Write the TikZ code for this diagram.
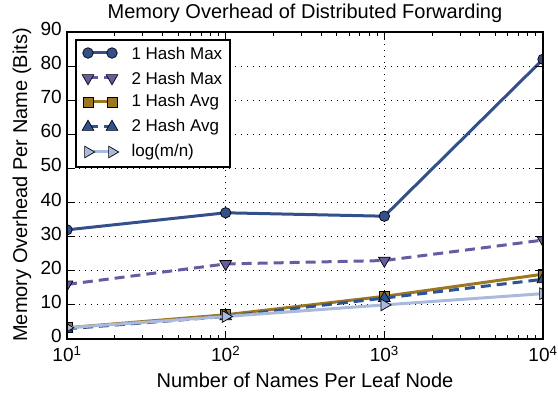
\documentclass[tikz,border=0pt]{standalone}
\usepackage{fontspec}
\setmainfont{Liberation Sans}
\usetikzlibrary{shapes.geometric}
\definecolor{maxone}{RGB}{52,80,138}
\definecolor{maxtwo}{RGB}{106,90,160}
\definecolor{avgone}{RGB}{156,118,32}
\definecolor{avgtwo}{RGB}{46,84,148}
\definecolor{logmn}{RGB}{170,186,220}

\tikzset{
  mk/.style={draw=black,line width=0.7pt,inner sep=0pt,outer sep=0pt},
  circ/.style={mk,circle,minimum size=10.5pt},
  sq/.style={mk,rectangle,minimum size=10pt},
  tri/.style={mk,regular polygon,regular polygon sides=3,minimum size=13.5pt},
  tdown/.style={tri,shape border rotate=180},
  tright/.style={tri,shape border rotate=-90},
  series/.style={line width=3pt,line join=round},
  dsh/.style={series,dash pattern=on 10pt off 6pt},
  gridline/.style={line width=0.9pt,dash pattern=on 1pt off 5pt},
  axlab/.style={font=\fontsize{20}{24}\selectfont},
  ticklab/.style={font=\fontsize{19}{23}\selectfont,inner sep=0pt},
  leglab/.style={font=\fontsize{17}{20}\selectfont,anchor=west},
}

\begin{document}
\begin{tikzpicture}[x=1pt,y=1pt]
\useasboundingbox (0,0) rectangle (558,394);

\begin{scope}[shift={(67,55)},x=158.67pt,y=3.411pt]
% grid
\foreach \v in {10,20,...,80}{
\draw[gridline] (0,\v) -- (3,\v);
}
\foreach \k in {1,2}{
\draw[gridline] (\k,0) -- (\k,90);
}
% data
\foreach \v [count=\i from 0] in {32,37,36,82}{ \coordinate (a\i) at (\i,\v); }
\foreach \v [count=\i from 0] in {16,22,23,29}{ \coordinate (b\i) at (\i,\v); }
\foreach \v [count=\i from 0] in {3.3,7.1,12.5,19}{ \coordinate (c\i) at (\i,\v); }
\foreach \v [count=\i from 0] in {3.0,6.6,12.0,17.5}{ \coordinate (d\i) at (\i,\v); }
\foreach \v [count=\i from 0] in {3.3,6.6,10,13.3}{ \coordinate (e\i) at (\i,\v); }
\begin{scope}
\clip (0,0) rectangle (3,90);
\draw[series,maxone] (a0) -- (a1) -- (a2) -- (a3);
\foreach \i in {0,...,3}{ \node[circ,fill=maxone] at (a\i) {}; }
\draw[dsh,maxtwo] (b0) -- (b1) -- (b2) -- (b3);
\foreach \i in {0,...,3}{ \node[tdown,fill=maxtwo] at (b\i) {}; }
\draw[series,avgone] (c0) -- (c1) -- (c2) -- (c3);
\foreach \i in {0,...,3}{ \node[sq,fill=avgone] at (c\i) {}; }
\draw[dsh,avgtwo] (d0) -- (d1) -- (d2) -- (d3);
\foreach \i in {0,...,3}{ \node[tri,fill=avgtwo] at (d\i) {}; }
\draw[series,logmn] (e0) -- (e1) -- (e2) -- (e3);
\foreach \i in {0,...,3}{ \node[tright,fill=logmn] at (e\i) {}; }
\end{scope}
% frame and ticks
\draw[line width=1.4pt] (0,0) rectangle (3,90);
\foreach \k in {0,...,3}{
\draw[line width=1pt] (\k,0) -- ++(0,8pt) (\k,90) -- ++(0,-8pt);
}
\foreach \k in {0,1,2}{
\foreach \m in {2,...,9}{
\draw[line width=0.8pt] ({\k+log10(\m)},0) -- ++(0,4pt) ({\k+log10(\m)},90) -- ++(0,-4pt);
}}
\foreach \v in {0,10,...,90}{
\draw[line width=1pt] (0,\v) -- ++(8pt,0) (3,\v) -- ++(-8pt,0);
\node[ticklab,anchor=east,xshift=-5pt,yshift=3pt] (y\v) at (0,\v) {\v};
}
\foreach \k in {1,...,4}{
\node[ticklab,anchor=north,yshift=-7pt] (x\k) at (\k-1,0) {10\textsuperscript{\k}};
}
\end{scope}

% labels
\node[axlab,anchor=base] (title) at (305,375) {Memory Overhead of Distributed Forwarding};
\node[axlab,anchor=base] (xlab) at (305,6) {Number of Names Per Leaf Node};
\node[axlab,rotate=90] (ylab) at (22,209) {Memory Overhead Per Name (Bits)};

% legend
\draw[fill=white,line width=1.2pt] (76,227) rectangle (230,354);
\foreach \n/\y in {p/341,q/316,r/292,s/267,t/242}{
\coordinate (\n1) at (88,\y);
\coordinate (\n2) at (112,\y);
}
\draw[series,maxone] (p1) -- (p2);
\node[circ,fill=maxone] at (p1) {}; \node[circ,fill=maxone] at (p2) {};
\draw[dsh,maxtwo] (q1) -- (q2);
\node[tdown,fill=maxtwo] at (q1) {}; \node[tdown,fill=maxtwo] at (q2) {};
\draw[series,avgone] (r1) -- (r2);
\node[sq,fill=avgone] at (r1) {}; \node[sq,fill=avgone] at (r2) {};
\draw[dsh,avgtwo] (s1) -- (s2);
\node[tri,fill=avgtwo] at (s1) {}; \node[tri,fill=avgtwo] at (s2) {};
\draw[series,logmn] (t1) -- (t2);
\node[tright,fill=logmn] at (t1) {}; \node[tright,fill=logmn] at (t2) {};
\node[leglab] (lp) at (128,341) {1 Hash Max};
\node[leglab] (lq) at (128,316) {2 Hash Max};
\node[leglab] (lr) at (128,292) {1 Hash Avg};
\node[leglab] (ls) at (128,267) {2 Hash Avg};
\node[leglab] (lt) at (128,242) {log(m/n)};
\end{tikzpicture}
\end{document}
